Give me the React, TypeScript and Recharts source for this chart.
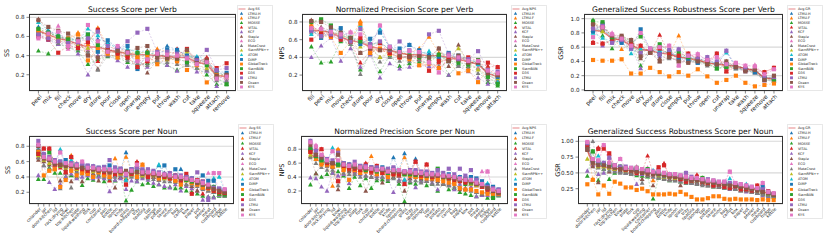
import React from 'react';
import { ComposedChart, Line, XAxis, YAxis, CartesianGrid } from 'recharts';

const FONT = '"DejaVu Sans", sans-serif';

const trackers = ['LTMU-H', 'LTMU-F', 'MOSSE', 'VITAL', 'KCF', 'Staple', 'ECO', 'MetaCrest', 'SiamRPN++', 'ATOM',
  'DiMP', 'GlobalTrack', 'SiamBAN', 'D3S', 'LTMU', 'Ocean', 'KYS'];
const tab10 = ['#1f77b4', '#ff7f0e', '#2ca02c', '#d62728', '#9467bd', '#8c564b', '#e377c2', '#7f7f7f', '#bcbd22', '#17becf'];
const trackerColor = (k: number) => tab10[k % 10];
const trackerShape = (k: number) => (k < 10 ? 'tri' : 'sq');

// ---------- Success Score per Verb ----------
const ssVerbs = ['peel', 'mix', 'fill', 'check', 'move', 'dry', 'store', 'pour', 'close', 'open', 'unwrap', 'empty', 'put', 'throw', 'wash', 'cut', 'take', 'squeeze', 'attach', 'remove'];
const ssVerbAvg = [.66, .62, .58, .56, .52, .49, .49, .46, .44, .42, .41, .41, .40, .39, .38, .38, .33, .31, .19, .18];
const ssVerbScores = [
  [.70, .66, .62, .58, .57, .58, .57, .54, .47, .46, .44, .45, .44, .50, .46, .40, .36, .33, .22, .21],
  [.67, .64, .60, .58, .64, .52, .69, .50, .46, .44, .42, .44, .47, .44, .42, .40, .35, .34, .21, .20],
  [.45, .42, .52, .49, .45, .31, .36, .39, .38, .33, .30, .32, .33, .30, .25, .30, .27, .20, .10, .10],
  [.66, .60, .55, .54, .50, .54, .34, .44, .43, .40, .28, .34, .38, .36, .47, .36, .32, .38, .17, .20],
  [.60, .56, .52, .50, .42, .20, .40, .40, .35, .28, .35, .28, .35, .30, .24, .32, .23, .24, .08, .14],
  [.78, .66, .58, .55, .52, .45, .26, .44, .43, .37, .40, .22, .36, .38, .36, .46, .34, .33, .18, .16],
  [.63, .60, .71, .47, .50, .47, .49, .42, .50, .44, .36, .38, .40, .37, .36, .34, .30, .26, .15, .16],
  [.62, .57, .53, .52, .47, .43, .25, .40, .40, .35, .32, .30, .35, .33, .31, .30, .27, .25, .14, .13],
  [.64, .62, .57, .55, .50, .48, .45, .43, .45, .42, .38, .36, .40, .36, .36, .44, .30, .27, .20, .18],
  [.75, .66, .60, .56, .55, .68, .61, .52, .48, .47, .44, .38, .41, .40, .38, .39, .39, .36, .22, .19],
  [.63, .64, .59, .58, .56, .62, .44, .56, .48, .50, .26, .42, .42, .46, .46, .40, .37, .34, .24, .22],
  [.66, .62, .56, .58, .62, .35, .48, .42, .38, .40, .38, .40, .31, .38, .34, .25, .30, .12, .20, .19],
  [.68, .64, .60, .57, .56, .62, .51, .46, .44, .42, .43, .43, .41, .39, .37, .33, .33, .30, .17, .10],
  [.60, .57, .43, .50, .48, .54, .67, .47, .42, .38, .28, .34, .42, .38, .40, .47, .35, .36, .27, .32],
  [.62, .58, .55, .53, .54, .58, .65, .50, .46, .55, .64, .68, .44, .44, .42, .38, .35, .46, .25, .27],
  [.77, .70, .66, .63, .57, .40, .38, .45, .45, .44, .48, .50, .38, .37, .37, .46, .32, .35, .19, .20],
  [.58, .63, .65, .50, .55, .72, .55, .44, .50, .43, .34, .36, .42, .41, .40, .37, .31, .33, .16, .18],
];

// ---------- Normalized Precision Score per Verb ----------
const npsVerbs = ['fill', 'peel', 'mix', 'move', 'check', 'store', 'pour', 'dry', 'close', 'open', 'throw', 'put', 'unwrap', 'empty', 'wash', 'cut', 'take', 'squeeze', 'remove', 'attach'];
const npsVerbAvg = [.70, .70, .68, .63, .59, .57, .52, .50, .48, .45, .43, .43, .42, .42, .40, .38, .35, .32, .22, .18];
const npsVerbScores = [
  [.72, .65, .72, .70, .62, .60, .55, .56, .50, .48, .54, .46, .44, .44, .44, .40, .38, .34, .24, .20],
  [.74, .70, .68, .66, .60, .81, .50, .48, .46, .44, .45, .50, .63, .45, .42, .40, .37, .33, .22, .19],
  [.52, .34, .35, .58, .55, .26, .44, .24, .42, .30, .33, .35, .34, .43, .20, .32, .30, .28, .12, .08],
  [.76, .68, .66, .62, .58, .34, .47, .48, .45, .42, .40, .38, .25, .34, .38, .37, .35, .33, .30, .29],
  [.40, .53, .62, .36, .50, .29, .43, .17, .33, .27, .29, .31, .30, .28, .20, .30, .24, .17, .10, .12],
  [.82, .74, .70, .64, .57, .45, .50, .40, .44, .40, .40, .42, .38, .50, .30, .54, .33, .34, .20, .14],
  [.70, .73, .67, .62, .69, .62, .48, .76, .50, .45, .42, .40, .36, .23, .40, .36, .32, .28, .18, .16],
  [.68, .66, .64, .60, .55, .21, .45, .35, .40, .36, .36, .37, .34, .30, .35, .30, .28, .22, .15, .13],
  [.72, .70, .69, .66, .61, .52, .52, .40, .47, .44, .43, .44, .40, .38, .40, .50, .35, .26, .20, .16],
  [.66, .72, .68, .66, .60, .76, .56, .72, .50, .48, .44, .44, .47, .36, .42, .40, .36, .32, .23, .12],
  [.71, .62, .70, .73, .62, .55, .61, .68, .52, .50, .54, .48, .42, .40, .45, .42, .38, .34, .22, .18],
  [.75, .64, .63, .45, .58, .78, .45, .50, .44, .40, .38, .31, .33, .28, .36, .22, .25, .12, .26, .20],
  [.80, .83, .76, .64, .62, .58, .54, .57, .48, .46, .42, .40, .40, .43, .36, .34, .32, .37, .18, .10],
  [.60, .67, .65, .60, .58, .62, .50, .56, .45, .40, .41, .42, .25, .36, .38, .38, .40, .36, .34, .29],
  [.70, .64, .66, .63, .58, .72, .55, .58, .48, .58, .48, .44, .66, .70, .44, .38, .38, .47, .26, .24],
  [.81, .80, .74, .68, .62, .45, .50, .48, .49, .42, .40, .42, .40, .50, .36, .42, .34, .34, .22, .20],
  [.73, .72, .69, .66, .68, .66, .52, .76, .52, .46, .47, .46, .34, .23, .42, .40, .36, .36, .25, .22],
];

// ---------- Generalized Success Robustness per Verb ----------
const gsrVerbs = ['peel', 'fill', 'mix', 'check', 'move', 'dry', 'pour', 'store', 'close', 'empty', 'put', 'throw', 'open', 'cut', 'unwrap', 'take', 'wash', 'squeeze', 'remove', 'attach'];
const gsrVerbAvg = [.84, .82, .72, .70, .62, .57, .55, .52, .50, .46, .44, .42, .38, .36, .35, .33, .30, .27, .17, .15];
const gsrVerbScores = [
  [.84, .86, .74, .72, .64, .55, .57, .54, .52, .46, .46, .44, .40, .38, .36, .34, .30, .28, .18, .16],
  [.95, .88, .76, .57, .64, .58, .55, .58, .50, .76, .44, .42, .38, .36, .34, .34, .30, .26, .16, .14],
  [.98, .76, .58, .75, .68, .34, .54, .62, .48, .50, .42, .40, .36, .30, .33, .30, .28, .24, .14, .12],
  [.67, .65, .70, .72, .66, .62, .52, .77, .50, .44, .51, .43, .36, .51, .26, .32, .30, .27, .25, .31],
  [.92, .62, .72, .70, .60, .30, .56, .47, .46, .57, .42, .40, .46, .34, .55, .30, .26, .24, .13, .14],
  [.94, .84, .74, .74, .70, .44, .53, .44, .47, .40, .40, .42, .36, .38, .40, .32, .28, .30, .15, .18],
  [.90, .86, .80, .73, .66, .80, .57, .58, .62, .35, .47, .51, .40, .40, .30, .38, .34, .35, .20, .29],
  [.88, .84, .74, .70, .62, .48, .54, .40, .44, .42, .40, .38, .34, .34, .32, .30, .28, .25, .14, .13],
  [.84, .82, .72, .70, .60, .55, .55, .50, .48, .46, .44, .42, .38, .36, .34, .33, .30, .27, .16, .15],
  [.80, .73, .68, .68, .51, .58, .56, .56, .52, .48, .44, .44, .40, .38, .52, .34, .30, .26, .18, .16],
  [.82, .92, .70, .66, .58, .85, .57, .50, .53, .44, .42, .38, .40, .36, .36, .32, .28, .25, .16, .15],
  [.42, .41, .41, .43, .23, .23, .31, .25, .19, .25, .20, .29, .19, .10, .14, .20, .10, .05, .07, .09],
  [.96, .95, .72, .74, .66, .75, .56, .64, .54, .52, .46, .42, .38, .30, .32, .34, .30, .28, .17, .15],
  [.66, .65, .68, .72, .64, .62, .54, .58, .50, .48, .51, .44, .40, .51, .26, .36, .28, .30, .25, .31],
  [.86, .90, .66, .70, .58, .52, .58, .50, .56, .57, .48, .44, .46, .40, .55, .34, .30, .28, .18, .18],
  [.92, .88, .76, .76, .70, .47, .52, .40, .46, .40, .38, .40, .36, .36, .40, .32, .26, .28, .14, .20],
  [.74, .88, .78, .72, .62, .80, .58, .60, .62, .34, .48, .50, .42, .46, .36, .38, .34, .33, .22, .29],
];

// ---------- Success Score per Noun ----------
const ssNouns = ['colander', 'jar', 'door:kitchen', 'lid', 'rack:drying', 'bowl', 'top:kitchen', 'plate', 'liquid:washing', 'fork',
  'cup', 'container', 'pan', 'bottle', 'spoon', 'knife', 'glass', 'board:chopping', 'tray', 'spatula', 'tap', 'sponge', 'potato',
  'sauce', 'onion', 'bag', 'carrot', 'box', 'paper', 'pot', 'peeler', 'meat', 'cupboard', 'fridge', 'kettle'];
const ssNounAvg = [.70, .64, .60, .57, .55, .54, .53, .52, .51, .50, .49, .48, .48, .47, .47, .46, .46, .45, .45, .44, .44, .43, .42, .41, .40, .39, .38, .37, .35, .33, .31, .28, .25, .22, .20];
const ssNounScores = [
  [.84, .66, .62, .60, .58, .57, .55, .56, .55, .52, .54, .50, .52, .50, .52, .49, .72, .48, .50, .47, .49, .46, .55, .45, .44, .42, .50, .40, .38, .36, .33, .31, .27, .24, .21],
  [.72, .66, .64, .58, .56, .55, .68, .54, .52, .50, .52, .51, .49, .50, .64, .48, .66, .47, .46, .56, .45, .44, .43, .44, .41, .40, .40, .38, .36, .34, .32, .29, .26, .23, .20],
  [.37, .37, .52, .45, .45, .40, .42, .40, .29, .38, .36, .42, .34, .36, .35, .40, .09, .23, .34, .30, .32, .28, .30, .26, .27, .25, .26, .22, .20, .18, .15, .14, .14, .15, .15],
  [.66, .77, .77, .55, .52, .46, .66, .50, .48, .47, .44, .50, .45, .35, .42, .40, .30, .44, .60, .42, .46, .40, .38, .42, .45, .36, .34, .36, .33, .32, .18, .30, .25, .20, .18],
  [.42, .55, .33, .24, .30, .40, .44, .38, .40, .42, .38, .40, .38, .21, .36, .38, .24, .35, .34, .38, .36, .32, .30, .28, .26, .30, .22, .28, .25, .22, .10, .14, .13, .16, .16],
  [.62, .60, .56, .52, .35, .50, .34, .48, .34, .46, .44, .35, .44, .40, .26, .44, .38, .42, .40, .44, .42, .40, .36, .38, .38, .35, .36, .30, .28, .22, .26, .22, .20, .18, .17],
  [.80, .63, .58, .54, .72, .56, .52, .58, .60, .50, .48, .46, .50, .48, .46, .47, .44, .46, .55, .44, .42, .43, .40, .41, .42, .38, .40, .36, .38, .34, .30, .45, .45, .22, .23],
  [.65, .55, .50, .50, .25, .45, .26, .46, .44, .44, .42, .44, .40, .38, .40, .42, .35, .40, .38, .40, .38, .37, .36, .34, .34, .33, .30, .30, .30, .28, .24, .22, .20, .17, .15],
  [.68, .62, .58, .56, .54, .52, .50, .50, .48, .48, .47, .46, .46, .45, .45, .44, .40, .43, .44, .42, .43, .42, .40, .38, .40, .37, .36, .35, .33, .31, .28, .26, .24, .21, .19],
  [.76, .70, .62, .58, .76, .58, .62, .55, .54, .52, .52, .50, .51, .52, .50, .48, .36, .48, .48, .46, .48, .44, .56, .42, .44, .42, .40, .38, .36, .34, .32, .30, .38, .40, .22],
  [.74, .68, .64, .60, .60, .62, .56, .56, .55, .54, .53, .52, .53, .55, .52, .50, .45, .50, .52, .48, .46, .46, .44, .55, .42, .50, .40, .40, .38, .36, .42, .35, .35, .24, .22],
  [.73, .42, .48, .50, .27, .36, .48, .42, .45, .44, .40, .46, .42, .40, .44, .45, .44, .45, .40, .56, .40, .44, .38, .40, .38, .35, .30, .36, .32, .30, .26, .25, .22, .18, .19],
  [.70, .68, .72, .60, .55, .56, .55, .54, .52, .50, .50, .49, .50, .48, .50, .47, .46, .46, .48, .45, .44, .45, .42, .42, .40, .40, .38, .36, .34, .33, .30, .28, .27, .18, .17],
  [.70, .77, .77, .56, .56, .46, .66, .52, .50, .48, .50, .49, .46, .46, .44, .48, .30, .44, .58, .46, .40, .44, .42, .40, .38, .42, .36, .44, .18, .36, .34, .26, .22, .20, .19],
  [.87, .70, .66, .62, .60, .58, .58, .56, .56, .55, .54, .52, .53, .62, .52, .51, .42, .50, .52, .50, .50, .48, .46, .44, .45, .42, .42, .40, .38, .46, .34, .10, .26, .25, .23],
  [.80, .64, .62, .57, .56, .54, .54, .53, .52, .51, .50, .48, .48, .46, .47, .46, .48, .46, .46, .44, .45, .43, .42, .42, .40, .40, .38, .38, .36, .32, .30, .27, .24, .22, .20],
  [.82, .66, .64, .60, .72, .58, .56, .55, .60, .52, .52, .50, .50, .50, .48, .48, .44, .48, .56, .46, .46, .45, .44, .43, .42, .40, .40, .38, .36, .35, .32, .30, .45, .45, .24],
];

// ---------- Normalized Precision Score per Noun ----------
const npsNouns = ['colander', 'jar', 'door:kitchen', 'rack:drying', 'lid', 'bowl', 'liquid:washing', 'top:kitchen', 'plate', 'fork',
  'cup', 'container', 'bottle', 'pan', 'knife', 'spoon', 'board:chopping', 'glass', 'tray', 'spatula', 'sponge', 'tap', 'sauce',
  'potato', 'onion', 'carrot', 'bag', 'paper', 'box', 'pot', 'meat', 'peeler', 'fridge', 'cupboard', 'kettle'];
const npsNounAvg = [.74, .66, .62, .60, .58, .57, .55, .54, .53, .52, .51, .50, .49, .49, .48, .48, .47, .46, .46, .45, .44, .43, .42, .42, .41, .40, .39, .37, .36, .34, .31, .28, .25, .22, .19];
const npsNounScores = [
  [.85, .74, .66, .64, .62, .60, .58, .58, .56, .55, .54, .52, .52, .52, .50, .68, .50, .74, .48, .66, .46, .46, .45, .44, .44, .42, .42, .40, .38, .36, .34, .31, .27, .24, .21],
  [.78, .72, .62, .62, .27, .80, .56, .56, .54, .54, .52, .70, .50, .50, .48, .50, .48, .68, .47, .46, .45, .46, .42, .44, .40, .40, .38, .38, .36, .34, .32, .28, .26, .22, .20],
  [.29, .45, .40, .44, .46, .48, .42, .24, .40, .28, .38, .24, .35, .36, .34, .40, .30, .05, .32, .30, .36, .28, .30, .20, .30, .22, .24, .18, .16, .14, .12, .14, .10, .12, .13],
  [.82, .80, .80, .58, .56, .34, .54, .50, .48, .50, .60, .46, .56, .45, .44, .45, .42, .30, .44, .62, .42, .58, .40, .38, .44, .40, .34, .36, .34, .32, .28, .26, .22, .20, .18],
  [.39, .38, .26, .20, .46, .42, .44, .31, .46, .44, .42, .40, .41, .40, .38, .18, .36, .35, .38, .25, .34, .36, .32, .22, .30, .30, .22, .30, .22, .26, .12, .14, .14, .16, .15],
  [.70, .45, .60, .56, .54, .22, .52, .48, .50, .46, .20, .40, .44, .32, .46, .40, .42, .20, .38, .40, .38, .34, .36, .34, .30, .28, .32, .22, .24, .30, .18, .16, .20, .18, .15],
  [.92, .86, .70, .62, .77, .58, .58, .54, .56, .54, .52, .48, .50, .50, .46, .46, .48, .44, .50, .44, .42, .42, .44, .40, .42, .40, .38, .36, .34, .38, .28, .48, .48, .20, .20],
  [.68, .60, .54, .50, .50, .28, .46, .44, .44, .40, .42, .40, .38, .40, .36, .38, .34, .36, .34, .35, .32, .34, .30, .30, .30, .28, .26, .26, .22, .20, .18, .16, .18, .14, .14],
  [.72, .66, .62, .58, .56, .56, .54, .52, .52, .50, .50, .48, .48, .46, .46, .46, .44, .44, .44, .42, .42, .40, .40, .40, .38, .38, .36, .34, .34, .30, .28, .26, .24, .20, .18],
  [.80, .70, .64, .62, .82, .62, .56, .56, .54, .55, .52, .52, .50, .52, .50, .52, .48, .36, .46, .48, .44, .44, .44, .46, .40, .42, .40, .38, .36, .36, .34, .30, .31, .24, .20],
  [.78, .70, .66, .64, .60, .58, .60, .58, .56, .56, .54, .54, .52, .54, .50, .52, .50, .48, .50, .48, .46, .46, .44, .44, .42, .44, .40, .40, .38, .40, .38, .34, .28, .26, .22],
  [.76, .66, .58, .58, .55, .78, .50, .36, .50, .46, .48, .50, .44, .46, .40, .44, .44, .44, .42, .40, .40, .38, .38, .36, .34, .32, .30, .24, .22, .22, .20, .18, .16, .15, .16],
  [.80, .70, .64, .62, .60, .58, .58, .54, .56, .52, .50, .50, .48, .50, .46, .47, .46, .44, .44, .43, .44, .42, .40, .52, .40, .38, .40, .36, .30, .32, .30, .28, .24, .10, .18],
  [.76, .72, .80, .60, .60, .34, .56, .52, .52, .50, .58, .48, .56, .46, .48, .44, .44, .30, .46, .62, .42, .58, .40, .42, .42, .38, .36, .34, .32, .34, .30, .26, .22, .20, .18],
  [.92, .78, .70, .66, .64, .75, .60, .58, .62, .56, .56, .54, .54, .52, .52, .54, .50, .48, .50, .50, .48, .48, .46, .50, .46, .52, .44, .52, .42, .50, .36, .30, .26, .24, .22],
  [.86, .72, .68, .62, .60, .72, .58, .56, .54, .54, .52, .52, .50, .50, .48, .48, .48, .46, .46, .44, .44, .42, .42, .42, .40, .40, .38, .36, .36, .34, .30, .28, .24, .20, .17],
  [.90, .84, .72, .64, .77, .64, .58, .56, .58, .54, .54, .52, .50, .52, .48, .50, .50, .48, .48, .46, .46, .44, .44, .44, .42, .42, .40, .38, .36, .36, .32, .30, .48, .22, .20],
];

// ---------- Generalized Success Robustness per Noun ----------
const gsrNouns = ['colander', 'door:kitchen', 'jar', 'lid', 'rack:drying', 'top:kitchen', 'bowl', 'plate', 'fork', 'cup',
  'liquid:washing', 'container', 'board:chopping', 'pan', 'bottle', 'knife', 'spoon', 'glass', 'tray', 'spatula', 'sponge', 'tap',
  'potato', 'sauce', 'onion', 'bag', 'carrot', 'box', 'paper', 'pot', 'peeler', 'meat', 'cupboard', 'fridge', 'kettle'];
const gsrNounAvg = [.85, .66, .62, .60, .58, .57, .56, .55, .53, .52, .51, .50, .49, .47, .45, .44, .43, .42, .40, .39, .38, .36, .35, .34, .33, .32, .31, .30, .28, .27, .25, .23, .20, .17, .15];
const gsrNounScores = [
  [.95, .70, .66, .64, .62, .60, .60, .58, .56, .56, .54, .54, .52, .50, .48, .47, .46, .44, .42, .42, .40, .38, .37, .36, .35, .34, .33, .32, .30, .29, .27, .25, .22, .18, .16],
  [.90, .40, .62, .60, .58, .56, .58, .55, .54, .52, .52, .50, .38, .48, .46, .45, .44, .42, .40, .40, .38, .36, .36, .34, .34, .32, .32, .30, .28, .28, .26, .24, .21, .18, .16],
  [.45, .84, .38, .56, .40, .50, .52, .50, .48, .46, .45, .44, .09, .42, .40, .38, .38, .36, .34, .34, .32, .42, .30, .28, .28, .26, .26, .25, .22, .22, .20, .18, .16, .14, .12],
  [.88, .64, .90, .88, .80, .58, .56, .56, .52, .54, .52, .77, .50, .58, .65, .44, .42, .40, .38, .36, .47, .34, .33, .32, .30, .30, .28, .28, .26, .25, .24, .30, .20, .20, .15],
  [.53, .62, .48, .50, .74, .54, .52, .50, .50, .32, .48, .46, .44, .44, .40, .40, .38, .38, .50, .34, .34, .32, .30, .30, .28, .28, .24, .26, .22, .20, .20, .18, .14, .12, .13],
  [.86, .60, .35, .62, .52, .56, .54, .52, .50, .48, .40, .46, .30, .44, .42, .40, .40, .30, .36, .36, .34, .32, .30, .30, .28, .27, .26, .24, .22, .22, .20, .18, .18, .16, .14],
  [.98, .66, .64, .94, .68, .62, .72, .58, .56, .60, .54, .58, .52, .50, .48, .48, .46, .44, .42, .42, .40, .38, .38, .36, .34, .34, .52, .32, .30, .28, .27, .25, .34, .20, .17],
  [.88, 1.0, .58, .56, .54, .52, .50, .50, .48, .48, .34, .46, .44, .42, .40, .38, .38, .36, .34, .34, .32, .30, .30, .28, .28, .26, .25, .24, .22, .22, .20, .18, .16, .14, .13],
  [.72, .66, .60, .60, .58, .56, .56, .54, .54, .52, .50, .50, .48, .46, .44, .44, .42, .42, .40, .38, .38, .36, .34, .34, .32, .32, .30, .30, .28, .26, .25, .22, .20, .17, .15],
  [.92, .70, .77, .66, .62, .60, .58, .58, .54, .56, .52, .52, .54, .48, .46, .48, .44, .42, .40, .40, .38, .38, .36, .34, .34, .32, .41, .30, .30, .32, .26, .24, .20, .18, .15],
  [.90, .68, .66, .64, .62, .60, .58, .56, .56, .54, .52, .52, .50, .48, .46, .46, .44, .44, .42, .40, .40, .38, .36, .36, .34, .34, .32, .30, .28, .28, .26, .24, .28, .18, .16],
  [.32, .39, .16, .30, .17, .36, .33, .27, .27, .23, .25, .21, .16, .16, .16, .17, .16, .20, .16, .12, .08, .08, .10, .13, .13, .09, .08, .09, .08, .08, .08, .07, .08, .07, .07],
  [.96, .84, .66, .64, .64, .62, .60, .58, .56, .58, .54, .56, .50, .50, .48, .46, .46, .44, .42, .40, .40, .42, .36, .36, .34, .32, .32, .30, .28, .26, .26, .24, .20, .18, .16],
  [.92, .70, .88, .90, .81, .60, .58, .55, .54, .50, .50, .52, .48, .59, .62, .46, .44, .40, .36, .38, .44, .36, .34, .30, .32, .28, .26, .29, .24, .24, .22, .30, .22, .21, .16],
  [.97, .68, .68, .66, .74, .62, .60, .60, .58, .56, .56, .54, .52, .52, .50, .48, .48, .46, .50, .44, .42, .40, .40, .38, .36, .36, .34, .34, .32, .30, .28, .26, .24, .20, .17],
  [.88, .66, .62, .62, .60, .58, .56, .56, .54, .52, .50, .48, .48, .48, .46, .44, .44, .42, .40, .38, .38, .36, .35, .34, .32, .32, .30, .30, .28, .26, .24, .22, .20, .18, .16],
  [.99, .72, .70, .94, .66, .62, .72, .58, .58, .58, .56, .54, .52, .52, .50, .48, .48, .46, .44, .42, .42, .40, .38, .38, .36, .36, .52, .34, .32, .30, .28, .26, .34, .20, .18],
];

const drawMarker = (shape: string, color: string, cx: number, cy: number, key: string, s = 4.6) =>
  shape === 'tri' ? (
    <path key={key} d={`M${cx},${cy - s * 0.58}L${cx + s * 0.52},${cy + s * 0.38}L${cx - s * 0.52},${cy + s * 0.38}Z`} fill={color} />
  ) : (
    <rect key={key} x={cx - s * 0.45} y={cy - s * 0.45} width={s * 0.9} height={s * 0.9} fill={color} />
  );

const RotTick = (props: any) => {
  const { x, y, payload, fs } = props;
  return (
    <g transform={`translate(${x + 1.2},${y - 1})`}>
      <text x={0} y={0} dy={fs * 0.6} textAnchor="end" transform="rotate(-45)" fontSize={fs} fill="#222" fontFamily={FONT}>
        {payload.value}
      </text>
    </g>
  );
};

const Legend = ({ left, top, height, avgName }: any) => {
  const step = (height - 8) / 17;
  const names = [avgName, ...trackers];
  return (
    <svg style={{ position: 'absolute', left, top }} width={36} height={height}>
      <rect x={0.3} y={0.3} width={35.4} height={height - 0.6} rx={1} fill="#fff" stroke="#ccc" strokeWidth={0.6} />
      {names.map((n, i) => {
        const cy = 4 + i * step;
        return (
          <g key={n}>
            {i === 0 ? (
              <line x1={1.5} x2={8.5} y1={cy} y2={cy} stroke="#d62728" strokeOpacity={0.55} strokeWidth={1} />
            ) : (
              drawMarker(trackerShape(i - 1), trackerColor(i - 1), 4.5, cy, `m${i}`, 3.2)
            )}
            <text x={11} y={cy + 1.2} fontSize={3.4} fill="#222" fontFamily={FONT}>{n}</text>
          </g>
        );
      })}
    </svg>
  );
};

type PanelCfg = {
  title: string; yLabel: string; avgName: string; cats: string[]; avg: number[]; rows: number[][];
  domain: [number, number]; ticks: number[]; digits: number; row: number;
  boxL: number; boxR: number; legL: number; yLabX: number; xfs: number;
};

const Panel = ({ cfg }: { cfg: PanelCfg }) => {
  const data = cfg.cats.map((c, i) => {
    const r: any = { name: c, avg: cfg.avg[i] };
    cfg.rows.forEach((vals, k) => { r['t' + k] = vals[i]; });
    return r;
  });
  const top = cfg.row === 0 ? 0 : 122;
  const chartH = cfg.row === 0 ? 122 : 123;
  const plotH = cfg.row === 0 ? 77 : 68;
  const w = cfg.boxR - cfg.boxL;
  const pad = (w * 0.05) / 1.1;
  const yAxisW = 34;
  return (
    <>
      <div style={{ position: 'absolute', left: cfg.boxL - yAxisW, top, width: w + yAxisW + 2, height: chartH }}>
        <ComposedChart width={w + yAxisW + 2} height={chartH} data={data} margin={{ top: 14, right: 2, bottom: 0, left: 0 }}>
          <CartesianGrid vertical={false} stroke="#d8d8d8" strokeWidth={1.1} />
          <XAxis dataKey="name" scale="point" padding={{ left: pad, right: pad }} interval={0}
            tick={<RotTick fs={cfg.xfs} />} tickSize={2.5} tickLine={{ stroke: '#333', strokeWidth: 0.6 }}
            axisLine={false} height={chartH - 14 - plotH} />
          <YAxis width={yAxisW} type="number" domain={cfg.domain} ticks={cfg.ticks} allowDataOverflow
            tickFormatter={(v: number) => v.toFixed(cfg.digits)} tickSize={2.5}
            tick={{ fontSize: 5.6, fill: '#222', fontFamily: FONT }} tickLine={{ stroke: '#333', strokeWidth: 0.6 }}
            axisLine={false} />
          {trackers.map((t, k) => (
            <Line key={t} type="linear" dataKey={'t' + k} name={t} stroke={trackerColor(k)} strokeWidth={0.7}
              strokeOpacity={0.45} strokeDasharray="2 1.5" isAnimationActive={false} activeDot={false}
              dot={(p: any) => (p.cy == null ? <g key={`e${k}-${p.index}`} /> :
                drawMarker(trackerShape(k), trackerColor(k), p.cx, p.cy, `d${k}-${p.index}`))} />
          ))}
          <Line type="linear" dataKey="avg" name={cfg.avgName} stroke="#d62728" strokeOpacity={0.55} strokeWidth={1.4}
            dot={false} activeDot={false} isAnimationActive={false} />
        </ComposedChart>
      </div>
      <div style={{ position: 'absolute', left: cfg.boxL, top: top + 14, width: w, height: plotH, border: '0.8px solid #333', boxSizing: 'border-box', pointerEvents: 'none' }} />
      <div style={{ position: 'absolute', left: cfg.boxL, width: w, top: top + 5, textAlign: 'center', fontSize: 7.6, lineHeight: '9px', fontFamily: FONT, color: '#111', whiteSpace: 'nowrap' }}>
        {cfg.title}
      </div>
      <div style={{ position: 'absolute', left: cfg.yLabX, top: top + 14 + plotH / 2, transform: 'translate(-50%,-50%) rotate(-90deg)', fontSize: 6.4, fontFamily: FONT, color: '#111', whiteSpace: 'nowrap' }}>
        {cfg.yLabel}
      </div>
      <Legend left={cfg.legL} top={cfg.row === 0 ? 5 : 124} height={cfg.row === 0 ? 86 : 95} avgName={cfg.avgName} />
    </>
  );
};

const panels: PanelCfg[] = [
  { title: 'Success Score per Verb', yLabel: 'SS', avgName: 'Avg SS', cats: ssVerbs, avg: ssVerbAvg, rows: ssVerbScores,
    domain: [0.03, 0.835], ticks: [0.2, 0.4, 0.6, 0.8], digits: 1, row: 0, boxL: 29, boxR: 236, legL: 237, yLabX: 7, xfs: 5.8 },
  { title: 'Normalized Precision Score per Verb', yLabel: 'NPS', avgName: 'Avg NPS', cats: npsVerbs, avg: npsVerbAvg, rows: npsVerbScores,
    domain: [0.02, 0.89], ticks: [0.2, 0.4, 0.6, 0.8], digits: 1, row: 0, boxL: 302, boxR: 507, legL: 511, yLabX: 282, xfs: 5.8 },
  { title: 'Generalized Success Robustness Score per Verb', yLabel: 'GSR', avgName: 'Avg GR', cats: gsrVerbs, avg: gsrVerbAvg, rows: gsrVerbScores,
    domain: [-0.015, 1.065], ticks: [0, 0.2, 0.4, 0.6, 0.8, 1.0], digits: 1, row: 0, boxL: 584, boxR: 783, legL: 787, yLabX: 561, xfs: 5.8 },
  { title: 'Success Score per Noun', yLabel: 'SS', avgName: 'Avg SS', cats: ssNouns, avg: ssNounAvg, rows: ssNounScores,
    domain: [0.047, 0.934], ticks: [0.2, 0.4, 0.6, 0.8], digits: 1, row: 1, boxL: 29, boxR: 234, legL: 238, yLabX: 8, xfs: 4.3 },
  { title: 'Normalized Precision Score per Noun', yLabel: 'NPS', avgName: 'Avg NPS', cats: npsNouns, avg: npsNounAvg, rows: npsNounScores,
    domain: [0.013, 0.99], ticks: [0.2, 0.4, 0.6, 0.8], digits: 1, row: 1, boxL: 301, boxR: 508, legL: 511, yLabX: 282, xfs: 4.3 },
  { title: 'Generalized Success Robustness Score per Noun', yLabel: 'GSR', avgName: 'Avg GR', cats: gsrNouns, avg: gsrNounAvg, rows: gsrNounScores,
    domain: [0.008, 1.084], ticks: [0.25, 0.5, 0.75, 1.0], digits: 2, row: 1, boxL: 578, boxR: 783, legL: 787, yLabX: 558, xfs: 4.3 },
];

export default function App() {
  return (
    <div style={{ position: 'absolute', left: 0, top: 0, width: 830, height: 245, background: '#fff', overflow: 'hidden', fontFamily: FONT }}>
      {panels.map((p) => (
        <Panel key={p.title} cfg={p} />
      ))}
    </div>
  );
}
